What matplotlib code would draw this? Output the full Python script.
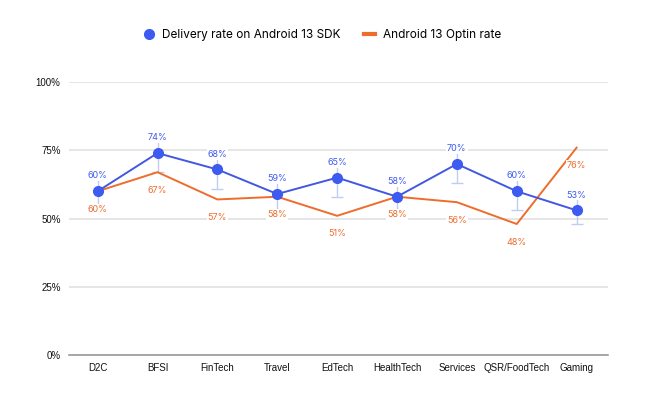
import numpy as np
import matplotlib.pyplot as plt
from matplotlib.lines import Line2D
from matplotlib.ticker import PercentFormatter

# data
categories = ["D2C", "BFSI", "FinTech", "Travel", "EdTech",
              "HealthTech", "Services", "QSR/FoodTech", "Gaming"]
delivery_rate = [60, 74, 68, 59, 65, 58, 70, 60, 53]
delivery_err = [5, 7, 7, 6, 7, 5, 7, 7, 5]
optin_rate = [60, 67, 57, 58, 51, 58, 56, 48, 76]
y_ticks = [0, 25, 50, 75, 100]

BLUE = "#3d5af1"
BLUE_LINE = "#4258e0"
ERR = "#c0cdf0"
ORANGE = "#ee6c2c"

fig = plt.figure(figsize=(6.5, 3.97), dpi=100)
ax = fig.add_axes([0.106, 0.106, 0.829, 0.687])

x = np.arange(len(categories))

ax.errorbar(x, delivery_rate, yerr=delivery_err, fmt="none", ecolor=ERR,
            elinewidth=1.0, capsize=4, capthick=1.0, zorder=2)
ax.plot(x, optin_rate, color=ORANGE, lw=1.4, zorder=3)
ax.plot(x, delivery_rate, color=BLUE_LINE, lw=1.4, marker="o", ms=7,
        mfc=BLUE, mec=BLUE, zorder=4)

for xi, v in zip(x, delivery_rate):
    ax.annotate(f"{v}%", (xi, v), xytext=(0, 11), textcoords="offset points",
                ha="center", va="center", fontsize=6.5, color=BLUE,
                family="Inter", zorder=5,
                bbox=dict(boxstyle="square,pad=0.1", fc="white", ec="none"))
for xi, v in zip(x, optin_rate):
    ax.annotate(f"{v}%", (xi, v), xytext=(0, -13), textcoords="offset points",
                ha="center", va="center", fontsize=6.5, color=ORANGE,
                family="Inter", zorder=5,
                bbox=dict(boxstyle="square,pad=0.1", fc="white", ec="none"))

ax.set_xlim(-0.48, len(categories) - 0.48)
ax.set_ylim(0, 100)
ax.set_yticks(y_ticks)
ax.yaxis.set_major_formatter(PercentFormatter(decimals=0))
ax.set_xticks(x)
ax.set_xticklabels(categories)
ax.tick_params(length=0, labelsize=7, labelcolor="#111111", pad=6)
for lab in ax.get_xticklabels() + ax.get_yticklabels():
    lab.set_family("Liberation Sans")

ax.grid(axis="y", color="#e2e2e2", lw=1.2)
ax.set_axisbelow(True)
for s in ["top", "right", "left"]:
    ax.spines[s].set_visible(False)
ax.spines["bottom"].set_color("#9a9a9a")
ax.spines["bottom"].set_linewidth(1.2)

handles = [
    Line2D([], [], ls="none", marker="o", ms=7, mfc=BLUE, mec=BLUE),
    Line2D([], [], color=ORANGE, lw=3),
]
fig.legend(handles, ["Delivery rate on Android 13 SDK", "Android 13 Optin rate"],
           loc="center", bbox_to_anchor=(0.495, 0.912), ncol=2, frameon=False,
           prop={"family": "Inter", "size": 8.5}, handlelength=1.0,
           handletextpad=0.6, columnspacing=2.0)

fig.savefig("out.png", dpi=100, facecolor="white")
